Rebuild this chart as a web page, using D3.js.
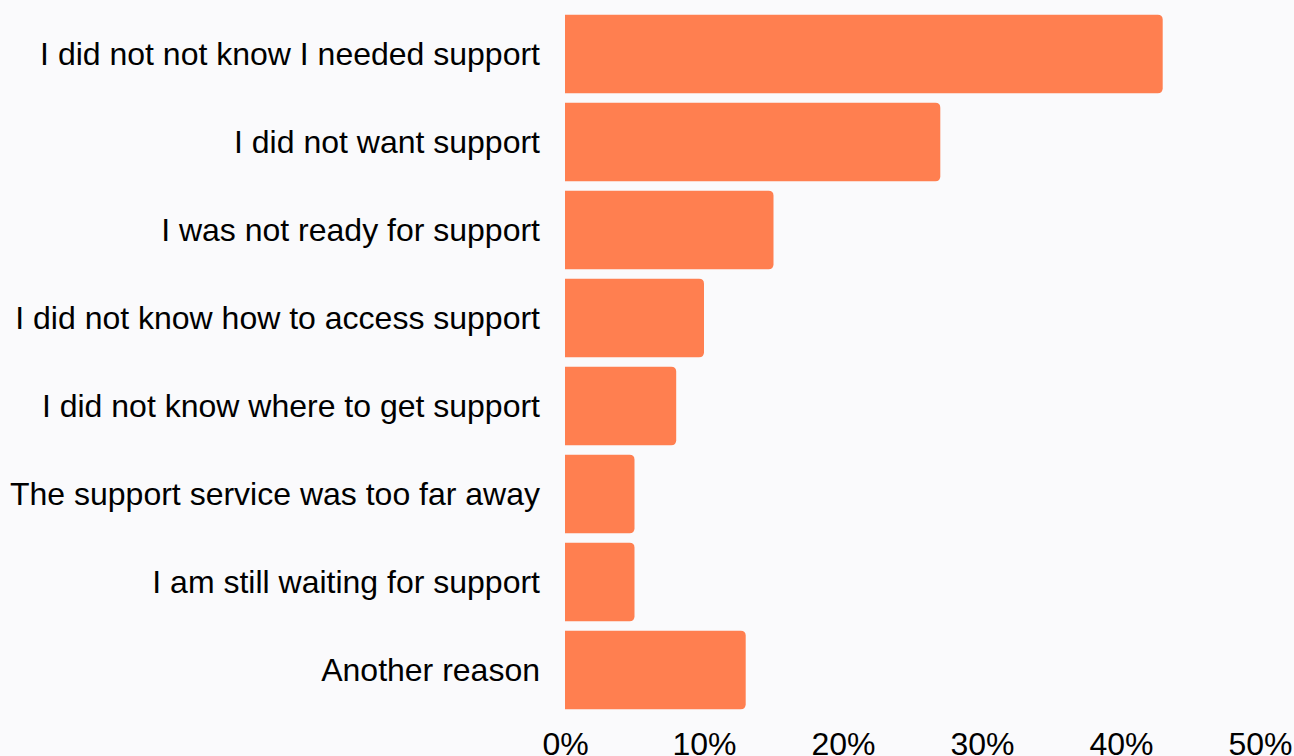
<!DOCTYPE html>
<html>
<head>
<meta charset="utf-8">
<script src="https://cdn.jsdelivr.net/npm/d3@7"></script>
<style>
  html, body { margin: 0; padding: 0; background: #fafafc; }
  svg { display: block; }
  text { font-family: "Liberation Sans", Arial, sans-serif; }
</style>
</head>
<body>
<svg id="chart" width="1294" height="756"></svg>
<script>
// Reasons for not receiving support (share of respondents, %)
const reasons = [
  "I did not not know I needed support",
  "I did not want support",
  "I was not ready for support",
  "I did not know how to access support",
  "I did not know where to get support",
  "The support service was too far away",
  "I am still waiting for support",
  "Another reason"
];
const shares = [43, 27, 15, 10, 8, 5, 5, 13];
const tickValues = [0, 10, 20, 30, 40, 50];

const W = 1294, H = 756;
const left = 565, right = 1260;
const barColor = "#ff7f50";

const svg = d3.select("#chart");
svg.append("rect").attr("width", W).attr("height", H).attr("fill", "#fafafc");

const x = d3.scaleLinear().domain([0, 50]).range([left, right]);
const y = d3.scaleBand().domain(reasons).range([10, 714])
  .paddingInner(0.11).paddingOuter(0.055);

const data = reasons.map((r, i) => ({ reason: r, value: shares[i] }));

// Bars with square left edge and rounded right corners
function barPath(d) {
  const x0 = x(0), x1 = x(d.value), y0 = y(d.reason), h = y.bandwidth();
  const r = Math.min(5, (x1 - x0) / 2);
  return `M${x0},${y0}H${x1 - r}Q${x1},${y0} ${x1},${y0 + r}` +
         `V${y0 + h - r}Q${x1},${y0 + h} ${x1 - r},${y0 + h}H${x0}Z`;
}

svg.append("g").selectAll("path").data(data).join("path")
  .attr("d", barPath)
  .attr("fill", barColor);

// Category labels
const yAxis = d3.axisLeft(y).tickSize(0).tickPadding(25);
const gy = svg.append("g").attr("transform", `translate(${left},1)`).call(yAxis);
gy.select(".domain").remove();
gy.selectAll("text").attr("font-size", 32).attr("fill", "#000")
  .style("font-family", '"Liberation Sans", Arial, sans-serif');

// Percentage axis
const xAxis = d3.axisBottom(x).tickValues(tickValues)
  .tickFormat(d => d + "%").tickSize(0).tickPadding(18);
const gx = svg.append("g").attr("transform", "translate(0,714)").call(xAxis);
gx.select(".domain").remove();
gx.selectAll("text").attr("font-size", 32).attr("fill", "#000")
  .style("font-family", '"Liberation Sans", Arial, sans-serif');
</script>
</body>
</html>
